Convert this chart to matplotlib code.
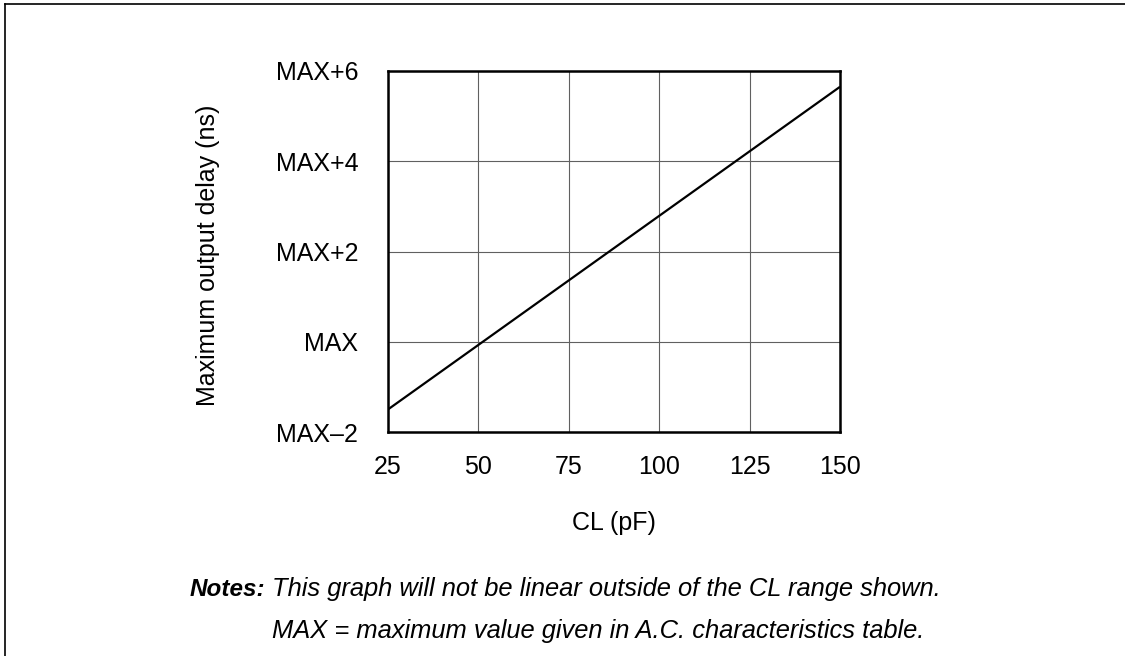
import matplotlib
matplotlib.use("Agg")
import matplotlib.pyplot as plt
from matplotlib.lines import Line2D

plt.rcParams['font.family'] = ['Liberation Sans', 'DejaVu Sans']

# data
cl_pf = [25, 150]
delay_ns = [-1.5, 5.65]
x_ticks = [25, 50, 75, 100, 125, 150]
y_ticks = [-2, 0, 2, 4, 6]
y_tick_labels = ['MAX\u20132', 'MAX', 'MAX+2', 'MAX+4', 'MAX+6']

W, H = 1125, 656
FS = 18
fig = plt.figure(figsize=(W / 100, H / 100), dpi=100)
ax = fig.add_axes([388 / W, 1 - 432 / H, 452 / W, 361 / H])

ax.plot(cl_pf, delay_ns, color='black', linewidth=1.6, solid_capstyle='butt')
ax.set_xlim(25, 150)
ax.set_ylim(-2, 6)
ax.set_xticks(x_ticks)
ax.set_yticks(y_ticks)
ax.set_yticklabels(y_tick_labels)
ax.tick_params(length=0, labelsize=FS)
ax.tick_params(axis='x', pad=16.5)
ax.tick_params(axis='y', pad=21.5)
ax.grid(True, color='#606060', linewidth=0.8)
ax.set_axisbelow(True)
for s in ax.spines.values():
    s.set_linewidth(1.8)
    s.set_color('black')

ax.set_xlabel('CL (pF)', fontsize=FS)
ax.set_ylabel('Maximum output delay (ns)', fontsize=FS)
ax.xaxis.set_label_coords(0.5, (432 - 511) / 361)
ax.yaxis.set_label_coords((220 - 388) / 452, 0.49)

# notes below the chart
fig.text(190 / W, 1 - 589 / H, 'Notes:', fontsize=17.5, fontweight='bold',
         style='italic', va='center', ha='left')
fig.text(272 / W, 1 - 589 / H,
         'This graph will not be linear outside of the CL range shown.',
         fontsize=18.4, style='italic', va='center', ha='left')
fig.text(272 / W, 1 - 631 / H,
         'MAX = maximum value given in A.C. characteristics table.',
         fontsize=18.4, style='italic', va='center', ha='left')

# partial frame around the figure (left and top edges)
fig.add_artist(Line2D([5 / W, 5 / W], [0, 1 - 4 / H], color='black', linewidth=1.2,
                      transform=fig.transFigure))
fig.add_artist(Line2D([5 / W, 1], [1 - 4 / H, 1 - 4 / H], color='black', linewidth=1.2,
                      transform=fig.transFigure))

fig.savefig('out.png', dpi=100)
